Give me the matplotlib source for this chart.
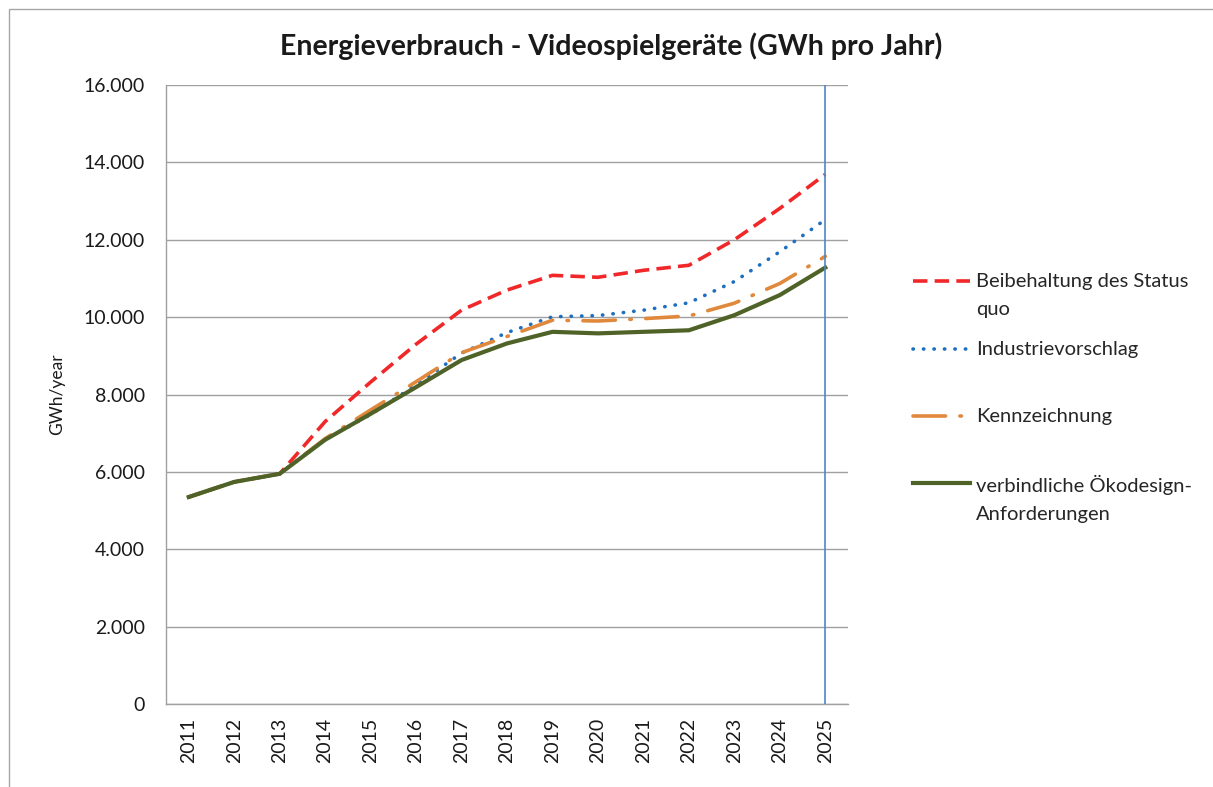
import numpy as np
import matplotlib.pyplot as plt
from matplotlib.lines import Line2D
from matplotlib.patches import Rectangle
from matplotlib.ticker import FuncFormatter

plt.rcParams['font.family'] = ['Lato', 'DejaVu Sans']

# Daten (GWh pro Jahr)
jahre = [str(j) for j in range(2011, 2026)]
status_quo = [5350, 5740, 5950, 7300, 8320, 9300, 10180, 10700, 11080, 11030,
              11210, 11340, 12000, 12810, 13690]
industrie = [5350, 5740, 5950, 6840, 7480, 8250, 9070, 9600, 10010, 10040,
             10180, 10370, 10920, 11690, 12520]
kennzeichnung = [5350, 5740, 5950, 6860, 7600, 8330, 9080, 9500, 9920, 9900,
                 9960, 10030, 10360, 10870, 11570]
oekodesign = [5350, 5740, 5950, 6830, 7500, 8190, 8890, 9320, 9620, 9580,
              9620, 9660, 10050, 10570, 11280]

labels = ['Beibehaltung des Status\nquo', 'Industrievorschlag',
          'Kennzeichnung', 'verbindliche Ökodesign-\nAnforderungen']

# Linienstile: (Farbe, Breite, Strichmuster)
stile = [
    dict(color='#f0282a', linewidth=2.6, dashes=(4.0, 2.0)),
    dict(color='#1f6fc0', linewidth=2.6, dashes=(0.1, 2.8),
         dash_capstyle='round'),
    dict(color='#e0883c', linewidth=2.6, dashes=(9, 4, 0.4, 4),
         dash_capstyle='round'),
    dict(color='#4f6228', linewidth=3.0),
]

fig = plt.figure(figsize=(12.13, 7.87), dpi=100)
ax = fig.add_axes([166 / 1213, 1 - 704 / 787, (848 - 166) / 1213, (704 - 85) / 787])

x = np.arange(len(jahre))
for serie, st in zip([status_quo, industrie, kennzeichnung, oekodesign], stile):
    ax.plot(x, serie, zorder=3, **st)

ax.axvline(x[-1], color='#4f86c6', linewidth=1.2, zorder=4)

ax.set_xlim(-0.5, len(jahre) - 0.5)
ax.set_ylim(0, 16000)
ax.set_yticks(range(0, 16001, 2000))
ax.yaxis.set_major_formatter(FuncFormatter(lambda v, p: f'{int(v):,}'.replace(',', '.')))
ax.set_xticks(x)
ax.set_xticklabels(jahre, rotation=90, fontsize=14)
ax.tick_params(axis='y', labelsize=14, length=0, pad=15, colors='#1a1a1a')
ax.tick_params(axis='x', length=0, pad=10, colors='#1a1a1a')
ax.grid(axis='y', color='#a0a0a0', linewidth=1.0)
ax.set_axisbelow(True)
for side in ['top', 'right']:
    ax.spines[side].set_visible(False)
for side in ['left', 'bottom']:
    ax.spines[side].set_color('#a0a0a0')
    ax.spines[side].set_linewidth(1.0)

ax.set_ylabel('GWh/year', fontsize=12.5, color='#1a1a1a')
ax.yaxis.set_label_coords(-0.148, 0.5)

fig.text(611 / 1213, 1 - 46 / 787, 'Energieverbrauch - Videospielgeräte (GWh pro Jahr)',
         ha='center', va='center', fontsize=20.5, fontweight='bold', color='#1a1a1a')

# Legende (manuell, wie im Original)
leg_y = [281, 349, 416, 483]
for lab, st, yp in zip(labels, stile, leg_y):
    yf = 1 - yp / 787
    fig.add_artist(Line2D([913 / 1213, 970 / 1213], [yf, yf],
                          transform=fig.transFigure, **st))
    fig.text(976 / 1213, yf + 8 / 787, lab, ha='left', va='top', fontsize=14.5,
             color='#262626', linespacing=1.75)

# Rahmen des Diagrammbereichs
fig.add_artist(Rectangle((9 / 1213, -0.05), 1.1, 1 - 9 / 787 + 0.05,
                         transform=fig.transFigure, fill=False,
                         edgecolor='#a6a6a6', linewidth=1.0))

fig.savefig('out.png', dpi=100)
